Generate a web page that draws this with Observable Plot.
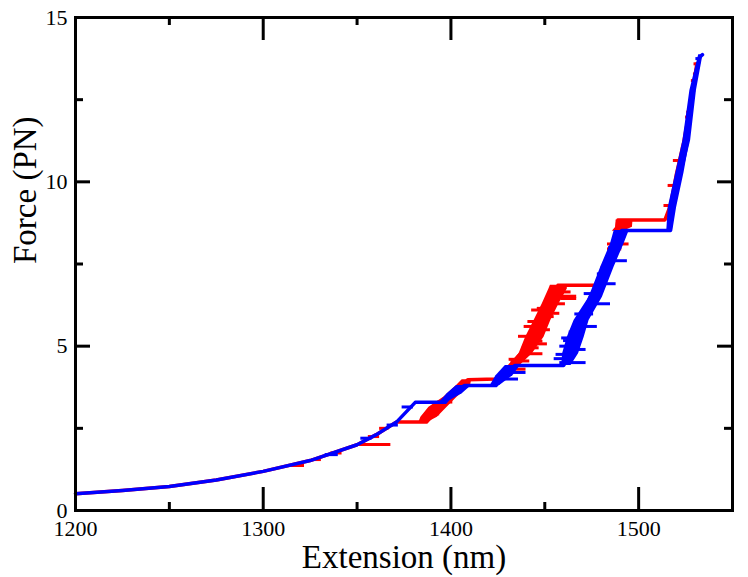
<!DOCTYPE html>
<html>
<head>
<meta charset="utf-8">
<script src="https://cdn.jsdelivr.net/npm/d3@7"></script>
<script src="https://cdn.jsdelivr.net/npm/@observablehq/plot@0.6"></script>
<style>
  html, body { margin: 0; padding: 0; background: #fff; }
  svg { display: block; }
  svg, svg text { font-family: "Liberation Serif", "Times New Roman", "DejaVu Serif", serif !important; }
</style>
</head>
<body>
<div id="chart"></div>
<script>
// ---- Data ----
const xTicks = [1200, 1300, 1400, 1500];
const xMinor = [1250, 1350, 1450];
const yTicks = [0, 5, 10, 15];
const yMinor = [2.5, 7.5, 12.5];

// Core trajectories (extension nm, force pN)
const redX = [1200, 1225, 1250, 1275, 1300, 1325, 1350, 1360, 1371, 1387, 1392, 1398, 1404, 1409, 1424, 1430, 1437, 1444, 1448, 1453, 1457, 1479, 1483, 1487, 1489, 1514, 1517, 1520, 1524, 1527.5, 1531];
const redF = [0.51, 0.61, 0.73, 0.93, 1.19, 1.52, 2.0, 2.3, 2.69, 2.69, 3.0, 3.3, 3.65, 3.98, 4.0, 4.3, 4.77, 5.27, 5.78, 6.29, 6.85, 6.85, 7.4, 8.1, 8.84, 8.84, 9.3, 10.2, 11.2, 12.3, 13.59];

const blueX = [1200, 1225, 1250, 1275, 1300, 1325, 1350, 1360, 1371, 1381, 1397, 1401, 1407, 1424, 1429, 1434, 1460, 1464, 1466.5, 1469.5, 1474, 1483, 1488, 1491, 1517, 1519, 1523, 1526, 1529, 1532.5, 1534];
const blueF = [0.51, 0.61, 0.73, 0.93, 1.19, 1.52, 2.0, 2.3, 2.69, 3.29, 3.29, 3.55, 3.8, 3.8, 4.1, 4.41, 4.41, 4.77, 5.27, 5.78, 6.49, 7.4, 8.11, 8.52, 8.52, 9.23, 10.3, 11.26, 12.78, 13.79, 13.87];

// Noisy bands (force level, left and right extension)
const redBandA = {f: [2.69, 2.84, 3.14, 3.45, 3.8, 3.98], xl: [1383, 1384, 1388.3, 1396.3, 1403, 1406], xr: [1388, 1392.8, 1398, 1403.4, 1410.5, 1411]};
const redBandB = {f: [4.0, 4.26, 4.77, 5.27, 5.78, 6.29, 6.74, 6.85], xl: [1424, 1428.3, 1436.3, 1439.8, 1444.3, 1448.7, 1452.2, 1453], xr: [1428, 1434, 1443.4, 1449.6, 1453.2, 1457.6, 1462, 1462]};
const redBandC = {f: [8.5, 8.62, 8.84], xl: [1486, 1487.8, 1488], xr: [1492, 1496.7, 1497]};

const blueBandA = {f: [3.29, 3.55, 3.8], xl: [1394, 1398, 1403], xr: [1398, 1406, 1411]};
const blueBandB = {f: [3.8, 4.1, 4.41], xl: [1421, 1424, 1429], xr: [1426, 1433, 1437]};
const blueBandC = {f: [4.41, 4.77, 5.27, 5.78, 6.49, 7.4, 8.11, 8.52], xl: [1459, 1459.5, 1462, 1465.6, 1473.6, 1479.8, 1485, 1487], xr: [1464, 1468, 1471, 1473.6, 1480.7, 1486.9, 1492.2, 1495]};
const blueBandD = {f: [8.52, 9.23, 11.26, 12.78, 13.87], xl: [1515, 1515.8, 1523.6, 1527.3, 1532], xr: [1518, 1519.3, 1527.7, 1530.8, 1534.3]};

// Horizontal excursions (force level, from, to)
const redSpikeF  = [1.37, 1.55, 1.75, 2.01, 2.25, 2.5, 2.94, 3.3, 4.3, 4.55, 4.6, 4.77, 4.95, 5.07, 5.15, 5.3, 5.5, 5.6, 5.75, 5.9, 6.0, 6.1, 6.15, 6.29, 6.52, 6.45, 6.65, 7.4, 7.96, 8.11, 9.28, 9.89, 10.65, 11.05, 11.97, 12.12, 12.78, 13.08, 13.28, 13.59];
const redSpikeX1 = [1314, 1326, 1336, 1350, 1356, 1362, 1386, 1393, 1430, 1432, 1431, 1440, 1438, 1446, 1441, 1436, 1446, 1439, 1441, 1447, 1450, 1443, 1446, 1452, 1455, 1458.5, 1453, 1480, 1483.4, 1483.4, 1513.5, 1515.7, 1518.5, 1522.8, 1525, 1525.6, 1527.8, 1528.1, 1529.2, 1529.5];
const redSpikeX2 = [1322, 1331, 1342, 1368, 1362, 1367, 1394, 1401, 1440, 1442, 1438, 1449, 1447, 1451.4, 1449, 1444, 1453, 1446, 1449, 1455, 1458, 1450, 1452, 1461, 1467, 1467, 1464, 1486, 1491, 1494.9, 1518, 1521.5, 1525, 1525.6, 1528.5, 1528.7, 1530.4, 1531, 1531.7, 1532.2];

const blueSpikeF  = [1.7, 2.2, 2.6, 3.15, 4.0, 4.2, 4.5, 4.62, 4.75, 4.9, 5.0, 5.17, 5.25, 5.43, 5.6, 5.98, 6.29, 6.6, 6.9, 7.2, 7.6, 8.0, 13.75];
const blueSpikeX1 = [1333, 1352, 1366, 1374, 1428, 1431, 1458, 1455, 1456, 1467, 1458, 1460, 1459, 1463, 1471, 1466, 1478, 1471, 1482, 1478, 1487, 1484, 1530.5];
const blueSpikeX2 = [1340, 1358, 1372, 1380, 1436, 1440, 1472, 1462, 1462, 1472, 1466, 1466, 1465, 1469, 1478, 1476, 1485, 1477, 1488, 1484, 1494, 1491, 1533];

// ---- helpers to build tables for Plot ----
const path = (xs, fs) => xs.map((x, i) => ({x, f: fs[i]}));
const band = b => b.f.map((f, i) => ({f, xl: b.xl[i], xr: b.xr[i]}));
const spikes = (fs, x1s, x2s) => fs.map((f, i) => ({f, x1: x1s[i], x2: x2s[i]}));

const RED = "#ff0000", BLUE = "#0000ff";
const FONT = "Liberation Serif";
const W = 748, H = 577, ML = 75, MR = 16, MT = 17, MB = 67;
const PW = W - ML - MR, PH = H - MT - MB;

const bandMarks = (bands, color) => bands.map(b => Plot.areaX(band(b), {y: "f", x1: "xl", x2: "xr", fill: color, curve: "linear"}));

const chart = Plot.plot({
  width: W, height: H,
  marginLeft: ML, marginRight: MR, marginTop: MT, marginBottom: MB,
  style: "font-family: 'Liberation Serif', serif; background: #fff; color: #000;",
  x: {domain: [1200, 1550]},
  y: {domain: [0, 15]},
  marks: [
    // red series
    ...bandMarks([redBandA, redBandB, redBandC], RED),
    Plot.ruleY(spikes(redSpikeF, redSpikeX1, redSpikeX2), {y: "f", x1: "x1", x2: "x2", stroke: RED, strokeWidth: 3}),
    Plot.line(path(redX, redF), {x: "x", y: "f", stroke: RED, strokeWidth: 3.5, curve: "linear"}),
    // blue series
    ...bandMarks([blueBandA, blueBandB, blueBandC, blueBandD], BLUE),
    Plot.ruleY(spikes(blueSpikeF, blueSpikeX1, blueSpikeX2), {y: "f", x1: "x1", x2: "x2", stroke: BLUE, strokeWidth: 3}),
    Plot.line(path(blueX, blueF), {x: "x", y: "f", stroke: BLUE, strokeWidth: 3.5, curve: "linear"}),
    // inward ticks on all four sides
    Plot.ruleX(xTicks, {x: d => d, insetTop: PH - 23, strokeWidth: 3}),
    Plot.ruleX(xTicks, {x: d => d, insetBottom: PH - 23, strokeWidth: 3}),
    Plot.ruleX(xMinor, {x: d => d, insetTop: PH - 8, strokeWidth: 3}),
    Plot.ruleX(xMinor, {x: d => d, insetBottom: PH - 8, strokeWidth: 3}),
    Plot.ruleY(yTicks, {y: d => d, insetRight: PW - 15, strokeWidth: 3}),
    Plot.ruleY(yTicks, {y: d => d, insetLeft: PW - 15, strokeWidth: 3}),
    Plot.ruleY(yMinor, {y: d => d, insetRight: PW - 8, strokeWidth: 3}),
    Plot.ruleY(yMinor, {y: d => d, insetLeft: PW - 8, strokeWidth: 3}),
    Plot.frame({stroke: "#000", strokeWidth: 3}),
    // tick labels
    Plot.axisX(xTicks, {tickSize: 0, tickPadding: 10, fontSize: 22, fontFamily: FONT, tickFormat: d => String(d), label: null}),
    Plot.axisY(yTicks, {tickSize: 0, tickPadding: 8, fontSize: 22, fontFamily: FONT, tickFormat: d => String(d), label: null}),
    // axis titles
    Plot.text(["Extension (nm)"], {frameAnchor: "bottom", lineAnchor: "bottom", dy: 57, fontSize: 33, fontFamily: FONT, fill: "#000"}),
    Plot.text(["Force (PN)"], {frameAnchor: "left", lineAnchor: "bottom", rotate: -90, dx: -40, fontSize: 33, fontFamily: FONT, fill: "#000"})
  ]
});
document.getElementById("chart").appendChild(chart);
</script>
</body>
</html>
